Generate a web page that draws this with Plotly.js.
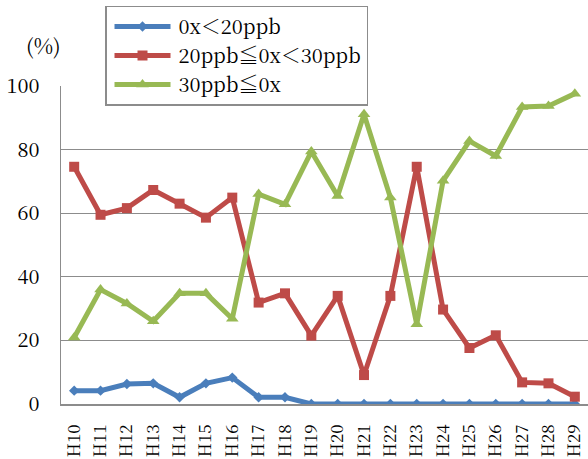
<!DOCTYPE html>
<html>
<head>
<meta charset="utf-8">
<script src="https://cdn.plot.ly/plotly-3.0.1.min.js"></script>
<style>
  html, body { margin: 0; padding: 0; background: #fff; }
  #chart { width: 588px; height: 459px; }
</style>
</head>
<body>
<div id="chart"></div>
<script>
// Fiscal years (Heisei era)
const years = ["H10", "H11", "H12", "H13", "H14", "H15", "H16", "H17", "H18", "H19",
               "H20", "H21", "H22", "H23", "H24", "H25", "H26", "H27", "H28", "H29"];

// Share of stations (%) in each Ox concentration band
const below20 = [4.2, 4.2, 6.3, 6.5, 2.1, 6.5, 8.3, 2.1, 2.1, 0,
                 0, 0, 0, 0, 0, 0, 0, 0, 0, 0];
const from20to30 = [74.6, 59.5, 61.6, 67.3, 63.0, 58.6, 64.9, 31.9, 34.8, 21.5,
                    34.0, 9.1, 34.0, 74.6, 29.7, 17.6, 21.6, 6.8, 6.5, 2.3];
const above30 = [20.9, 36.0, 31.6, 26.0, 34.8, 34.8, 26.8, 66.0, 62.8, 79.4,
                 65.4, 91.1, 64.9, 25.1, 70.2, 82.7, 78.0, 93.4, 93.7, 97.6];

const seriesNames = ["0x＜20ppb", "20ppb≦0x＜30ppb", "30ppb≦0x"];

const mincho = "Noto Serif CJK JP";

const traces = [
  {
    x: years, y: below20, name: seriesNames[0], type: "scatter", mode: "lines+markers",
    line: { color: "#4A7EBB", width: 5 },
    marker: { symbol: "diamond", size: 8, color: "#4A7EBB" }
  },
  {
    x: years, y: from20to30, name: seriesNames[1], type: "scatter", mode: "lines+markers",
    line: { color: "#BE4B48", width: 5 },
    marker: { symbol: "square", size: 10, color: "#BE4B48" }
  },
  {
    x: years, y: above30, name: seriesNames[2], type: "scatter", mode: "lines+markers",
    line: { color: "#98B954", width: 5 },
    marker: { symbol: "triangle-up", size: 11, color: "#98B954" }
  }
];

const layout = {
  width: 588,
  height: 459,
  margin: { l: 61, r: 0, t: 86, b: 55 },
  paper_bgcolor: "#ffffff",
  plot_bgcolor: "#ffffff",
  font: { family: mincho, color: "#000000", size: 20 },
  showlegend: true,
  legend: {
    x: 0.0835, y: 1.253, xanchor: "left", yanchor: "top",
    bgcolor: "#ffffff", bordercolor: "#8c8c8c", borderwidth: 1.5,
    font: { family: mincho, size: 20, color: "#000000" },
    tracegroupgap: 0,
    itemwidth: 62
  },
  xaxis: {
    type: "category",
    range: [-0.5, 19.5],
    tickangle: -90,
    tickfont: { family: mincho, size: 17, color: "#000000" },
    ticks: "",
    ticklabelstandoff: 12,
    showline: true, linecolor: "#8c8c8c", linewidth: 1.5,
    showgrid: false, zeroline: false, fixedrange: true
  },
  yaxis: {
    range: [0, 100],
    tickvals: [0, 20, 40, 60, 80, 100],
    tickfont: { family: mincho, size: 20, color: "#000000" },
    ticks: "",
    ticklabelstandoff: 16,
    showline: true, linecolor: "#8c8c8c", linewidth: 1.5,
    showgrid: true, gridcolor: "#8c8c8c", gridwidth: 1.2,
    zeroline: false, fixedrange: true
  },
  annotations: [
    {
      text: "(%)", xref: "paper", yref: "paper",
      x: -0.034, y: 1.128, xanchor: "center", yanchor: "middle",
      showarrow: false, font: { family: mincho, size: 21, color: "#000000" }
    }
  ]
};

Plotly.newPlot("chart", traces, layout, { displayModeBar: false, staticPlot: true }).then(function (gd) {
  // Longer sample lines in the legend, with the marker centred on them
  gd.querySelectorAll(".legend .legendlines path").forEach(function (p) {
    p.setAttribute("d", "M8,0h56");
  });
  gd.querySelectorAll(".legend .legendpoints path").forEach(function (p) {
    p.setAttribute("transform", "translate(36,0)");
  });
});
</script>
</body>
</html>
